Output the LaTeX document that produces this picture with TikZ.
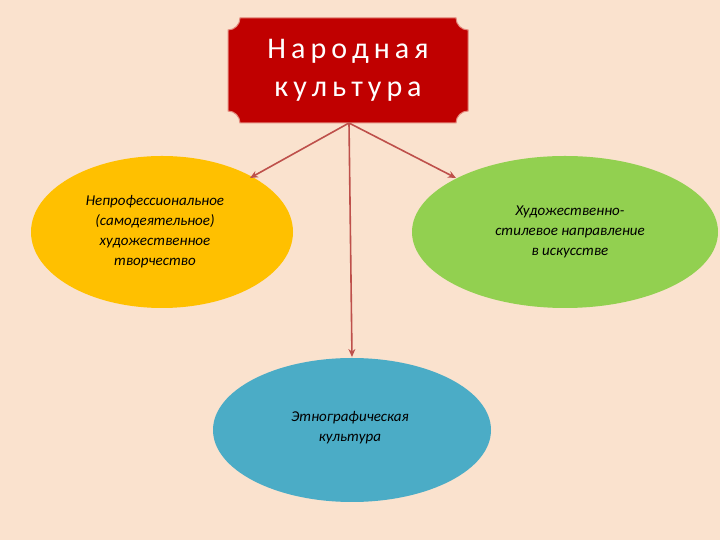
\documentclass[tikz,border=0pt]{standalone}
\usepackage{fontspec}
\setmainfont{Carlito}
\usetikzlibrary{arrows.meta}
\definecolor{bg}{RGB}{250,226,206}
\definecolor{boxred}{RGB}{192,0,0}
\definecolor{yel}{RGB}{255,192,0}
\definecolor{grn}{RGB}{146,208,80}
\definecolor{blu}{RGB}{75,172,198}
\definecolor{arr}{RGB}{190,80,75}
\tikzset{
  ell/.style={align=center,font=\fontsize{15}{20}\selectfont\itshape},
  conn/.style={draw=arr,line width=1.6pt,-{Stealth[length=8pt,width=7pt]}}
}
\begin{document}
\begin{tikzpicture}[x=1pt,y=1pt]
\fill[bg] (0,0) rectangle (720,540);
\useasboundingbox (0,0) rectangle (720,540);
\fill[boxred,draw=bg!60!boxred,line width=1pt] (240,522) -- (456,522) arc(180:270:12) -- (468,429) arc(90:180:12) -- (240,417) arc(0:90:12) -- (228,510) arc(270:360:12) -- cycle;
\node[text=white,align=center,font=\fontsize{30}{38}\selectfont] (top) at (348,470) {Н\,а\,р\,о\,д\,н\,а\,я\\к\,у\,л\,ь\,т\,у\,р\,а};
\coordinate (src) at (349,417);
\fill[yel] (162,308) ellipse[x radius=131,y radius=76];
\node[ell] (left) at (155,308) {Непрофессиональное\\(самодеятельное)\\художественное\\творчество};
\fill[grn] (565,308) ellipse[x radius=153,y radius=76];
\node[ell] (right) at (570,308) {Художественно-\\стилевое направление\\в искусстве};
\fill[blu] (352,110) ellipse[x radius=139,y radius=72];
\node[ell] (bot) at (350,112) {Этнографическая\\культура};
\coordinate (la) at (250,362);
\coordinate (ra) at (456,362);
\coordinate (ba) at (352,183);
\draw[conn] (src) -- (la);
\draw[conn] (src) -- (ra);
\draw[conn] (src) -- (ba);
\end{tikzpicture}
\end{document}
